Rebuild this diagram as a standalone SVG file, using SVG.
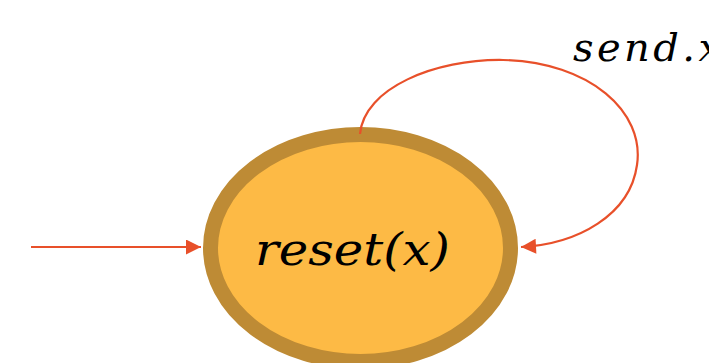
<svg xmlns="http://www.w3.org/2000/svg" width="709" height="363" viewBox="0 0 709 363">
  <style>
    .edge { fill: none; stroke: #E8502A; stroke-width: 2.2; }
    .state { fill: #FDBA45; stroke: #BE8B35; stroke-width: 15; }
    .math { font-family: "DejaVu Serif", "Liberation Serif", serif; font-style: italic; fill: #000; }
  </style>
  <defs>
    <marker id="arrow" viewBox="0 0 10 10" refX="10" refY="5" markerUnits="userSpaceOnUse" markerWidth="16" markerHeight="15" orient="auto">
      <path d="M0,0 L10,5 L0,10 z" fill="#E8502A"/>
    </marker>
  </defs>

  <!-- state node -->
  <g id="state-reset">
    <ellipse class="state" cx="360.5" cy="248" rx="150" ry="113.5"/>
    <text class="math" x="255" y="265" font-size="45" textLength="195" lengthAdjust="spacingAndGlyphs">reset(x)</text>
  </g>

  <!-- connectors -->
  <g id="edges">
    <line class="edge" x1="31" y1="247" x2="201" y2="247" marker-end="url(#arrow)"/>
    <path class="edge" d="M360,134 C364,88 435,59 503,60 C590,62 645,112 637,165 C630,215 578,244 521,247" marker-end="url(#arrow)"/>
  </g>

  <!-- edge label, running off the right edge -->
  <g id="label-send">
    <text class="math" x="573" y="61" font-size="40" textLength="148" lengthAdjust="spacing">send.x</text>
  </g>
</svg>
